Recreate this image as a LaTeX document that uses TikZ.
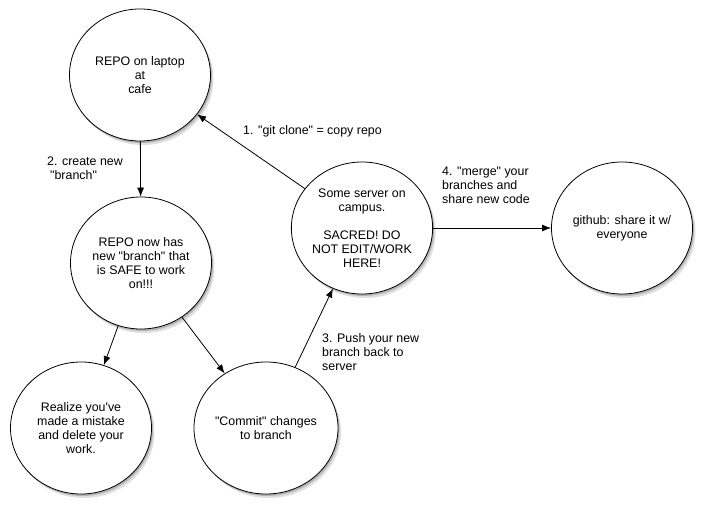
\documentclass[tikz,border=0pt]{standalone}
\usepackage{fontspec}
\newfontfamily\diagfont{Liberation Sans}
\usetikzlibrary{shapes.geometric,shadows,arrows.meta}

\begin{document}
\begin{tikzpicture}[x=1pt,y=-1pt,font=\diagfont\fontsize{12.4}{14}\selectfont,
	main/.style = {draw, ellipse, fill=white, line width=0.8pt, minimum width=141pt, minimum height=132pt, inner sep=0pt, align=center, drop shadow={opacity=0.25, shadow xshift=3pt, shadow yshift=-4pt}, drop shadow={opacity=0.45, shadow xshift=1.5pt, shadow yshift=-2pt}},
	lbl/.style = {anchor=west, align=left, inner sep=0pt},
	>={Latex[length=9pt,width=7pt]}]
					\useasboundingbox (0,0) rectangle (703,510);
					\node[main] (cafe) at (140,75) {REPO on laptop\\at\\cafe};
					\node[main] (branch) at (141,263) {REPO now has\\new "branch" that\\is SAFE to work\\on!!!};
					\node[main] (oops) at (81,428) {Realize you've\\made a mistake\\and delete your\\work.};
					\node[main] (commit) at (266,428) {"Commit" changes\\to branch};
					\node[main] (server) at (362,228) {Some server on\\campus.\\[14pt]SACRED! DO\\NOT EDIT/WORK\\HERE!};
					\node[main] (github) at (622,228) {github: share it w/\\everyone};
					
					\node[lbl] (l1) at (243,131) {1. "git clone" = copy repo};
					\node[lbl] (l2) at (47,168) {2. create new\\\hspace*{3pt}"branch"};
					\node[lbl] (l3) at (322,352) {3. Push your new\\branch back to\\server};
					\node[lbl] (l4) at (442,185) {4. "merge" your\\branches and\\share new code};
					
					\draw[->, line width=0.8pt] (server) -- (cafe);
					\draw[->, line width=0.8pt] (cafe) -- (branch);
					\draw[->, line width=0.8pt] (branch) -- (oops);
					\draw[->, line width=0.8pt] (branch) -- (commit);
					\draw[->, line width=0.8pt] (commit) -- (server);
					\draw[->, line width=0.8pt] (server) -- (github);
				\end{tikzpicture}
\end{document}
